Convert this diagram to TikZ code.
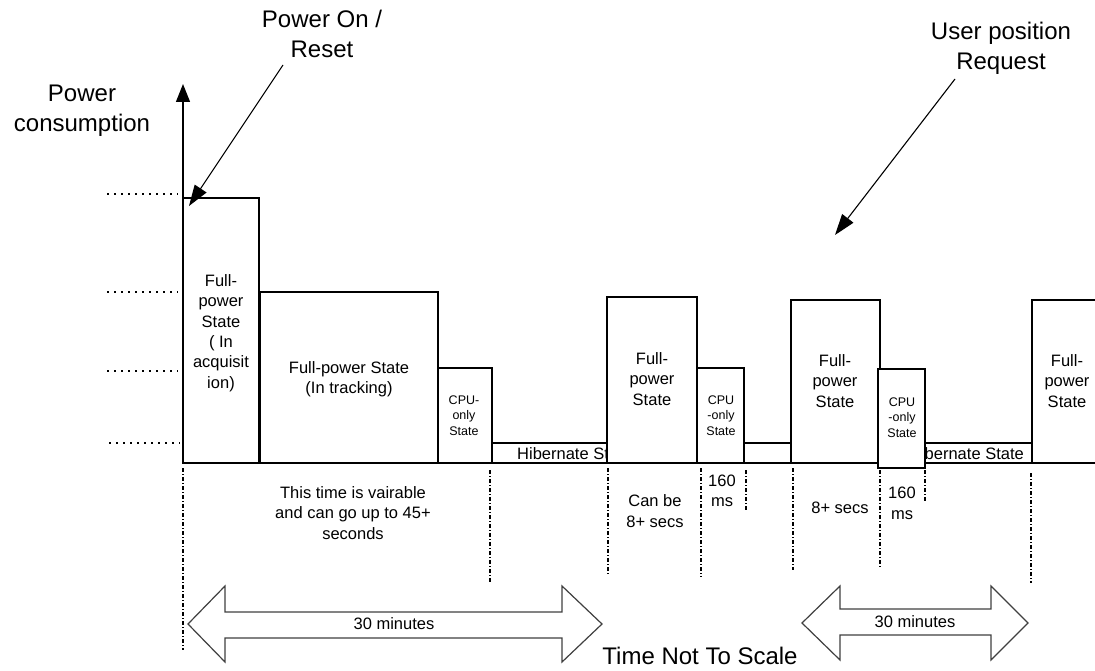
\documentclass[tikz,border=0pt]{standalone}
\usepackage{fontspec}
\setmainfont{Liberation Sans}
\usetikzlibrary{arrows.meta}
\begin{document}
\begin{tikzpicture}[x=1pt,y=-1pt,
  box/.style={draw, line width=1.5pt, fill=white},
  lbl/.style={font=\fontsize{16.5}{20.4}\selectfont, align=center, inner sep=0pt},
  sml/.style={font=\fontsize{12.5}{15.5}\selectfont, align=center, inner sep=0pt},
  big/.style={font=\fontsize{24}{30}\selectfont, align=center, inner sep=0pt},
  dd/.style={line width=1.2pt, dash pattern=on 4pt off 2pt on 1pt off 2pt},
  dotrow/.style={line width=1.6pt, dash pattern=on 1.6pt off 5.4pt},
  fat/.style={draw=black!75, line width=1.2pt, fill=white, line join=miter},
  ptr/.style={line width=1.1pt, -{Triangle[length=21pt,width=14pt]}},
  axisarrow/.style={line width=1.3pt, -{Triangle[length=18pt,width=14pt]}}]
\useasboundingbox (0,0) rectangle (1095,671);

% dotted level marks
\draw[dotrow] (107,194) -- (178,194);
\draw[dotrow] (107,292) -- (178,292);
\draw[dotrow] (107,371) -- (178,371);
\draw[dotrow] (109,443) -- (180,443);

% axis
\coordinate (O) at (183,463);
\coordinate (ytip) at (183,84);
\coordinate (xend) at (1095,463);
\draw[axisarrow] (O) -- (ytip);
\draw[line width=1.5pt] (O) -- (xend);

% boxes
\draw[box] (183,198) rectangle (259,463);
\draw[box] (260,292) rectangle (438,463);
\draw[box] (438,368) rectangle (492,463);
\draw[box] (492,443) rectangle (607,463);
\node[lbl, anchor=west] (hib1) at (517,453.5) {Hibernate State};
\draw[box] (607,297) rectangle (697,463);
\draw[box] (697,368) rectangle (744,463);
\draw[box] (744,443) rectangle (791,463);
\draw[box] (925,443) rectangle (1032,463);
\node[lbl, anchor=east] (hib3) at (1024,453.5) {Hibernate State};
\draw[box] (791,300) rectangle (880,463);
\draw[box] (878,369) rectangle (925,468);
\draw[box] (1096,463) -- (1032,463) -- (1032,300) -- (1096,300);

% box labels
\node[lbl] (fp1) at (221,333) {Full-\\power\\State\\( In\\acquisit\\ion)};
\node[lbl] (fp2) at (349,379) {Full-power State\\(In tracking)};
\node[sml] (cpu1) at (464,415.5) {CPU-\\only\\State};
\node[lbl] (fp3) at (652,379) {Full-\\power\\State};
\node[sml] (cpu2) at (721,415.5) {CPU\\-only\\State};
\node[lbl] (fp4) at (835,381) {Full-\\power\\State};
\node[sml] (cpu3) at (902,417.5) {CPU\\-only\\State};
\node[lbl] (fp5) at (1067,381) {Full-\\power\\State};

% dash-dot time marks
\draw[dd] (183,468) -- (183,650);
\draw[dd] (490,470) -- (490,582);
\draw[dd] (608,468) -- (608,575);
\draw[dd] (701,468) -- (701,577);
\draw[dd] (746,470) -- (746,510);
\draw[dd] (793,468) -- (793,570);
\draw[dd] (880,470) -- (880,568);
\draw[dd] (925,470) -- (925,502);
\draw[dd] (1031,473) -- (1031,583);

% time texts
\node[lbl] (t1) at (353,513) {This time is vairable\\and can go up to 45+\\seconds};
\node[lbl] (t2) at (655,511) {Can be\\8+ secs};
\node[lbl] (t3) at (722,491) {160\\ms};
\node[lbl] (t4) at (840,508) {8+ secs};
\node[lbl] (t5) at (902,503.5) {160\\ms};

% big double arrows
\draw[fat] (188,624) -- (225,586) -- (225,612) -- (562,612) -- (562,586) -- (602,624)
  -- (562,662) -- (562,638) -- (225,638) -- (225,662) -- cycle;
\node[lbl] (m1) at (394,624) {30 minutes};
\draw[fat] (802,623) -- (840,586) -- (840,609) -- (991,609) -- (991,586) -- (1028,623)
  -- (991,660) -- (991,635) -- (840,635) -- (840,660) -- cycle;
\node[lbl] (m2) at (915,622) {30 minutes};

% labels
\node[big] (ylab) at (82,110.5) {Power\\consumption};
\node[big] (pwr) at (322,34) {Power On /\\Reset};
\node[big] (usr) at (1001,48) {User position\\Request};
\node[big] (scale) at (700,656) {Time Not To Scale};

% pointer arrows
\coordinate (pwrA) at (283,65);
\coordinate (pwrB) at (189,206);
\draw[ptr] (pwrA) -- (pwrB);
\coordinate (usrA) at (955,79);
\coordinate (usrB) at (835,235);
\draw[ptr] (usrA) -- (usrB);
\end{tikzpicture}
\end{document}
